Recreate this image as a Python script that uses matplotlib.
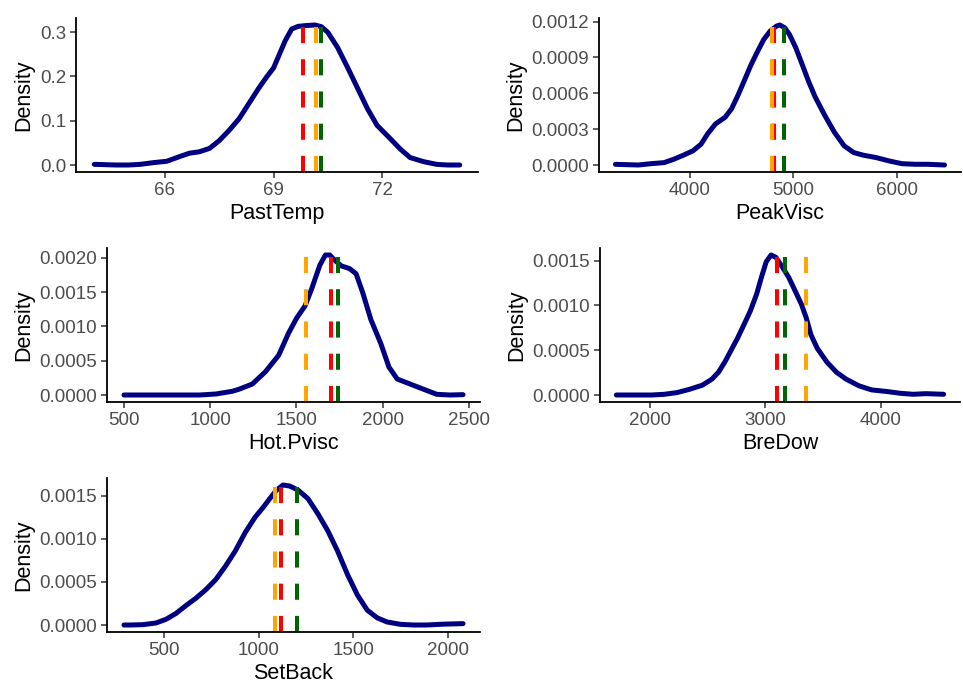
import matplotlib.pyplot as plt
import numpy as np

plt.rcParams['font.family'] = ['Liberation Sans', 'DejaVu Sans']

# density curves
past_x = [64.05, 64.65, 65.0, 65.32, 65.68, 66.05, 66.41, 66.68, 66.95, 67.23, 67.5, 67.77,
          68.05, 68.32, 68.59, 68.82, 69.0, 69.14, 69.32, 69.5, 69.68, 69.86, 70.14, 70.32,
          70.5, 70.77, 71.05, 71.32, 71.59, 71.86, 72.23, 72.5, 72.77, 73.14, 73.5, 73.8, 74.14]
past_y = [0.0015, 0.0, 0.0, 0.0015, 0.0053, 0.0084, 0.0191, 0.0267, 0.0298, 0.0374, 0.055,
          0.0779, 0.1046, 0.1389, 0.1733, 0.2, 0.2191, 0.2458, 0.2802, 0.3069, 0.313, 0.3145,
          0.316, 0.3122, 0.2992, 0.2649, 0.2191, 0.1733, 0.1275, 0.0893, 0.0588, 0.0359,
          0.0168, 0.0076, 0.0015, 0.0, 0.0]

peak_x = [3283, 3504, 3628, 3752, 3845, 3938, 4031, 4109, 4171, 4248, 4341, 4403, 4465, 4527,
          4589, 4651, 4713, 4775, 4837, 4868, 4915, 4961, 5023, 5085, 5147, 5209, 5302, 5395,
          5488, 5581, 5674, 5798, 5922, 6046, 6171, 6295, 6457]
peak_y = [5.6e-6, 0.0, 1.13e-5, 1.98e-5, 4.8e-5, 8.2e-5, 1.19e-4, 1.75e-4, 2.6e-4, 3.44e-4,
          4.0e-4, 4.71e-4, 5.84e-4, 7.09e-4, 8.36e-4, 9.46e-4, 1.05e-3, 1.121e-3, 1.163e-3,
          1.172e-3, 1.149e-3, 1.093e-3, 9.8e-4, 8.39e-4, 6.97e-4, 5.7e-4, 4.15e-4, 2.74e-4,
          1.61e-4, 1.04e-4, 8.2e-5, 6.2e-5, 3.4e-5, 1.1e-5, 6e-6, 6e-6, 0.0]

hot_x = [500, 652.7, 938.9, 1034.4, 1129.8, 1167.9, 1244.3, 1320.6, 1396.9, 1454.2, 1501.9,
         1549.6, 1587.8, 1635.5, 1667.9, 1692.8, 1721.4, 1759.5, 1807.3, 1845.4, 1883.6,
         1931.3, 1988.6, 2036.3, 2084.0, 2160.3, 2236.6, 2313.0, 2389.3, 2465.7]
hot_y = [0.0, 0.0, 0.0, 1.5e-5, 5.5e-5, 8.5e-5, 1.6e-4, 3.4e-4, 5.79e-4, 9.01e-4, 1.124e-3,
         1.297e-3, 1.544e-3, 1.891e-3, 2.039e-3, 2.039e-3, 1.965e-3, 1.881e-3, 1.841e-3,
         1.767e-3, 1.495e-3, 1.099e-3, 7.52e-4, 4.06e-4, 2.33e-4, 1.58e-4, 8.4e-5, 1e-5, 0.0, 5e-6]

bre_x = [1710, 1903, 2014, 2124, 2235, 2346, 2456, 2539, 2595, 2650, 2705, 2760, 2816, 2871,
         2926, 2968, 3009, 3051, 3093, 3148, 3203, 3259, 3314, 3356, 3397, 3452, 3535, 3618,
         3701, 3812, 3923, 4061, 4172, 4282, 4393, 4547]
bre_y = [0.0, 0.0, 0.0, 7.6e-6, 2.66e-5, 6.45e-5, 1.1e-4, 1.78e-4, 2.54e-4, 3.68e-4, 5.01e-4,
         6.34e-4, 7.86e-4, 9.38e-4, 1.128e-3, 1.317e-3, 1.488e-3, 1.564e-3, 1.538e-3, 1.431e-3,
         1.317e-3, 1.165e-3, 1.014e-3, 8.62e-4, 6.72e-4, 5.2e-4, 3.68e-4, 2.54e-4, 1.78e-4,
         1.03e-4, 5.7e-5, 3.8e-5, 1.9e-5, 8e-6, 1.5e-5, 8e-6]

set_x = [286, 317, 387, 456, 509, 561, 613, 666, 718, 771, 823, 875, 928, 980, 1024, 1058,
         1093, 1128, 1163, 1207, 1259, 1312, 1364, 1416, 1469, 1521, 1573, 1626, 1678, 1748,
         1818, 1887, 1980, 2080]
set_y = [0.0, 0.0, 3.9e-6, 2.36e-5, 6.68e-5, 1.34e-4, 2.24e-4, 3.1e-4, 4.08e-4, 5.26e-4,
         6.83e-4, 8.6e-4, 1.076e-3, 1.253e-3, 1.37e-3, 1.469e-3, 1.567e-3, 1.626e-3, 1.614e-3,
         1.567e-3, 1.469e-3, 1.292e-3, 1.096e-3, 8.6e-4, 5.85e-4, 3.49e-4, 1.73e-4, 8.3e-5,
         3.5e-5, 8e-6, 0.0, 0.0, 1e-5, 1.6e-5]

# vertical reference lines: red, orange, green
past_v = [69.81, 70.17, 70.30]
peak_v = [4813, 4794, 4908]
hot_v = [1703, 1558, 1739]
bre_v = [3104, 3353, 3170]
set_v = [1118, 1086, 1200]

W, H = 963, 682
fig = plt.figure(figsize=(W / 100, H / 100), dpi=100)


def panel(box, x, y, vl, xlabel, xticks, yticks, yfmt):
    l, t, r, b = box
    ax = fig.add_axes([l / W, 1 - b / H, (r - l) / W, (b - t) / H])
    ax.plot(x, y, color='#000080', lw=3.6, solid_joinstyle='round', solid_capstyle='round')
    for v, c in zip(vl, ['#FF0000', '#FFA500', '#006400']):
        ax.axvline(v, color=c, lw=2.9, linestyle=(0, (4, 4)))
    span = max(x) - min(x)
    ax.set_xlim(min(x) - 0.05 * span, max(x) + 0.05 * span)
    ymax = max(y)
    ax.set_ylim(-0.05 * ymax, 1.05 * ymax)
    ax.set_xticks(xticks)
    ax.set_xticklabels([str(v) for v in xticks])
    ax.set_yticks(yticks)
    ax.set_yticklabels([yfmt % v for v in yticks])
    for s in ['top', 'right']:
        ax.spines[s].set_visible(False)
    for s in ['left', 'bottom']:
        ax.spines[s].set_linewidth(1.3)
    ax.tick_params(length=4, width=1.1, color='#333333', labelcolor='#4D4D4D',
                   labelsize=13.5, pad=3)
    ax.set_xlabel(xlabel, fontsize=15.5, labelpad=3)
    ax.set_ylabel('Density', fontsize=15.5, labelpad=4)
    return ax


panel((76, 18, 478, 172), past_x, past_y, past_v, 'PastTemp',
      [66, 69, 72], [0.0, 0.1, 0.2, 0.3], '%.1f')
panel((599, 18, 961, 172), peak_x, peak_y, peak_v, 'PeakVisc',
      [4000, 5000, 6000], [0.0, 0.0003, 0.0006, 0.0009, 0.0012], '%.4f')
panel((107, 248, 480, 402), hot_x, hot_y, hot_v, 'Hot.Pvisc',
      [500, 1000, 1500, 2000, 2500], [0.0, 0.0005, 0.001, 0.0015, 0.002], '%.4f')
panel((600, 248, 960, 402), bre_x, bre_y, bre_v, 'BreDow',
      [2000, 3000, 4000], [0.0, 0.0005, 0.001, 0.0015], '%.4f')
panel((107, 478, 480, 632), set_x, set_y, set_v, 'SetBack',
      [500, 1000, 1500, 2000], [0.0, 0.0005, 0.001, 0.0015], '%.4f')

fig.savefig('out.png', dpi=100)
